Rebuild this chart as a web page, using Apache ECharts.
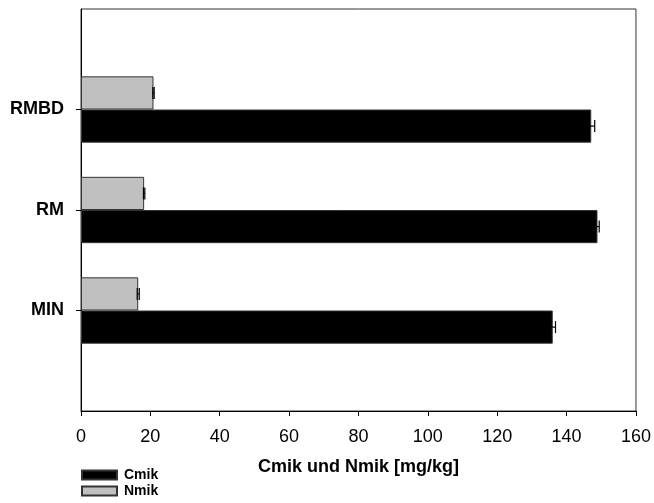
<!DOCTYPE html>
<html>
<head>
<meta charset="utf-8">
<script src="https://cdn.jsdelivr.net/npm/echarts@6/dist/echarts.min.js"></script>
<style>
html,body{margin:0;padding:0;background:#fff;}
#chart{width:654px;height:503px;}
</style>
</head>
<body>
<div id="chart"></div>
<script>
// ---- data ----
const categories = ['MIN', 'RM', 'RMBD'];
const cmik = [136.0, 148.9, 147.1];
const cmikErr = [0.8, 0.5, 1.0];
const nmik = [16.5, 18.2, 20.9];
const nmikErr = [0.3, 0.2, 0.2];
const xMin = 0, xMax = 160, xStep = 20;
const axisTitle = 'Cmik und Nmik [mg/kg]';

// padded category axis so categories sit at 1..n of a 0..n+1 range
const yCats = [''].concat(categories, ['']);
const pad = arr => [null].concat(arr, [null]);

const FONT = '"Liberation Sans", Arial, sans-serif';
const BAR_W = 0.33; // fraction of band

function errSeries(name, vals, errs, sign) {
  const data = vals.map((v, i) => [v, i + 1, errs[i]]);
  return {
    type: 'custom',
    name: name + ' err',
    z: 10,
    silent: true,
    encode: { x: 0, y: 1 },
    data: data,
    renderItem: function (params, api) {
      const v = api.value(0), c = api.value(1), e = api.value(2);
      const band = api.size([0, 1])[1];
      const off = sign * band * BAR_W / 2;
      const p1 = api.coord([v - e, c]);
      const p2 = api.coord([v + e, c]);
      const y = p1[1] + off;
      const h = 6;
      const st = { stroke: '#000', lineWidth: 1.2 };
      return {
        type: 'group',
        children: [
          { type: 'line', shape: { x1: p1[0], y1: y, x2: p2[0], y2: y }, style: st },
          { type: 'line', shape: { x1: p2[0], y1: y - h, x2: p2[0], y2: y + h }, style: st },
          { type: 'line', shape: { x1: p1[0], y1: y - h, x2: p1[0], y2: y + h }, style: st }
        ]
      };
    }
  };
}

const chart = echarts.init(document.getElementById('chart'), null, { renderer: 'canvas' });
chart.setOption({
  animation: false,
  backgroundColor: '#fff',
  textStyle: { fontFamily: FONT },
  grid: {
    left: 81, right: 17, top: 9, bottom: 92,
    show: true, borderColor: '#333', borderWidth: 1, backgroundColor: 'transparent'
  },
  legend: {
    orient: 'vertical',
    left: 81, top: 467,
    padding: 0,
    itemWidth: 35, itemHeight: 9, itemGap: 0,
    icon: 'rect',
    data: ['Cmik', 'Nmik'],
    textStyle: { fontFamily: FONT, fontWeight: 'bold', fontSize: 14, color: '#000', padding: [0, 0, 0, 2], lineHeight: 16 }
  },
  xAxis: {
    type: 'value',
    min: xMin, max: xMax, interval: xStep,
    name: axisTitle,
    nameLocation: 'middle',
    nameGap: 47,
    nameTextStyle: { fontFamily: FONT, fontWeight: 'bold', fontSize: 18, color: '#000' },
    axisLine: { show: true, lineStyle: { color: '#000', width: 1 } },
    axisTick: { show: true, length: 5, lineStyle: { color: '#000' } },
    axisLabel: { fontFamily: FONT, fontSize: 18, color: '#000', margin: 17 },
    splitLine: { show: false }
  },
  yAxis: {
    type: 'category',
    data: yCats,
    boundaryGap: false,
    axisLine: { show: true, lineStyle: { color: '#000', width: 1 } },
    axisTick: {
      show: true, length: 5, lineStyle: { color: '#000' },
      interval: function (idx, val) { return val !== ''; }
    },
    axisLabel: {
      fontFamily: FONT, fontWeight: 'bold', fontSize: 18, color: '#000', margin: 17,
      interval: function (idx, val) { return val !== ''; }
    },
    splitLine: { show: false }
  },
  series: [
    {
      type: 'bar', name: 'Nmik', data: pad(nmik),
      barWidth: (BAR_W * 100) + '%', barGap: '0%',
      itemStyle: { color: '#c0c0c0', borderColor: '#333', borderWidth: 1 }
    },
    {
      type: 'bar', name: 'Cmik', data: pad(cmik),
      barWidth: (BAR_W * 100) + '%', barGap: '0%',
      itemStyle: { color: '#000', borderColor: '#333', borderWidth: 1 }
    },
    errSeries('Nmik', nmik, nmikErr, -1),
    errSeries('Cmik', cmik, cmikErr, 1)
  ]
});
</script>
</body>
</html>
